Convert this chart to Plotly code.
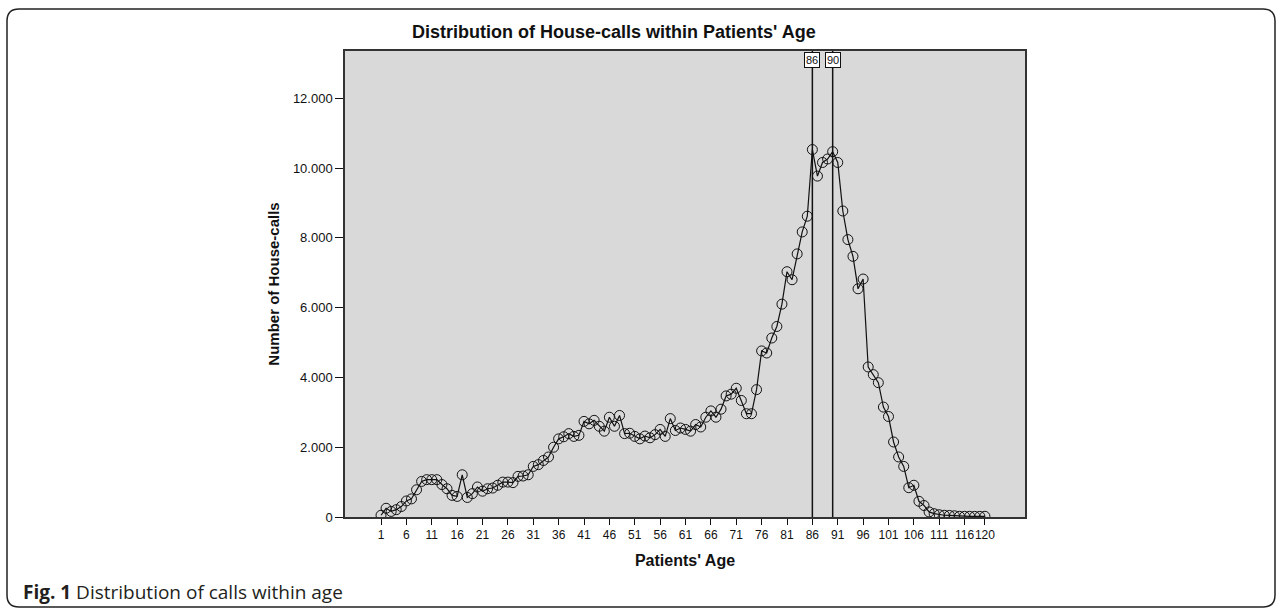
import plotly.graph_objects as go

ages = list(range(1, 121))
house_calls = [
    50, 250, 160, 210, 300, 460, 520, 780, 1020, 1070,
    1070, 1070, 930, 810, 620, 590, 1210, 560, 670, 860,
    740, 810, 830, 910, 1000, 1000, 985, 1165, 1175, 1210,
    1450, 1500, 1620, 1720, 2000, 2240, 2300, 2390, 2310, 2340,
    2740, 2670, 2770, 2600, 2460, 2860, 2600, 2910, 2390, 2400,
    2310, 2240, 2320, 2270, 2360, 2510, 2310, 2820, 2480, 2550,
    2510, 2460, 2650, 2580, 2860, 3040, 2860, 3090, 3470, 3520,
    3690, 3340, 2960, 2960, 3650, 4760, 4700, 5130, 5460, 6100,
    7030, 6800, 7540, 8170, 8620, 10530, 9770, 10160, 10260, 10470,
    10160, 8770, 7950, 7470, 6540, 6820, 4300, 4080, 3850, 3150,
    2880, 2150, 1720, 1450, 840, 910, 450, 330, 145, 95,
    65, 50, 45, 35, 20, 20, 20, 18, 18, 20,
]
x_tick_vals = list(range(1, 117, 5)) + [120]
y_tick_vals = [0, 2000, 4000, 6000, 8000, 10000, 12000]
ref_ages = [86, 90]

title_text = "Distribution of House-calls within Patients' Age"
x_title = "Patients' Age"
y_title = "Number of House-calls"
caption = "<b>Fig. 1</b> Distribution of calls within age"

W, H = 1282, 611
L, R, T, B = 345, 257, 51, 94
PW, PH = W - L - R, H - T - B


def px(x):
    return (x - L) / PW


def py(y):
    return (H - B - y) / PH


fig = go.Figure()
fig.add_trace(go.Scatter(
    x=ages, y=house_calls, mode="lines+markers",
    line=dict(color="#111111", width=1.2),
    marker=dict(symbol="circle-open", size=10, color="#111111", line=dict(width=1)),
    showlegend=False, hoverinfo="x+y",
))

for a in ref_ages:
    fig.add_shape(type="line", xref="x", yref="paper", x0=a, x1=a, y0=0, y1=1,
                  line=dict(color="#111111", width=1.5), layer="above")
    fig.add_annotation(x=a, y=0.997, xref="x", yref="paper", text=str(a),
                       showarrow=False, yanchor="top", xanchor="center",
                       bgcolor="white", bordercolor="#111111", borderwidth=1,
                       borderpad=1, font=dict(family="Liberation Sans, Arial", size=11, color="#111111"))

# figure title
fig.add_annotation(x=px(410), y=py(32), xref="paper", yref="paper", text="<b>" + title_text + "</b>",
                   showarrow=False, xanchor="left", yanchor="middle",
                   font=dict(family="Liberation Sans, Arial", size=18, color="#111111"))

# caption
fig.add_annotation(x=px(21), y=py(592), xref="paper", yref="paper", text=caption,
                   showarrow=False, xanchor="left", yanchor="middle",
                   font=dict(family="Open Sans", size=19, color="#231f20"))

# rounded frame
x0, y0, x1, y1, r = 7, 9, 1275, 607, 12
path = (f"M {px(x0)},{py(y0 + r)} Q {px(x0)},{py(y0)} {px(x0 + r)},{py(y0)} "
        f"L {px(x1 - r)},{py(y0)} Q {px(x1)},{py(y0)} {px(x1)},{py(y0 + r)} "
        f"L {px(x1)},{py(y1 - r)} Q {px(x1)},{py(y1)} {px(x1 - r)},{py(y1)} "
        f"L {px(x0 + r)},{py(y1)} Q {px(x0)},{py(y1)} {px(x0)},{py(y1 - r)} Z")
fig.add_shape(type="path", xref="paper", yref="paper", path=path,
              line=dict(color="#222222", width=1.5), fillcolor="rgba(0,0,0,0)")

fig.update_layout(
    width=W, height=H,
    margin=dict(l=L, r=R, t=T, b=B),
    paper_bgcolor="white", plot_bgcolor="#d9d9d9",
    separators=",.",
    font=dict(family="Liberation Sans, Arial", color="#111111"),
    xaxis=dict(range=[-6.1, 127.9], tickvals=x_tick_vals, tickangle=0, ticks="outside", ticklen=6,
               tickcolor="#111111", showline=True, linecolor="#333333", linewidth=1.5,
               mirror=True, showgrid=False, zeroline=False,
               tickfont=dict(size=12, color="#111111"),
               title=dict(text="<b>" + x_title + "</b>", font=dict(size=16), standoff=14)),
    yaxis=dict(range=[0, 13355], tickvals=y_tick_vals, tickformat=",d", ticks="outside",
               ticklen=8, tickcolor="#111111", showline=True, linecolor="#333333",
               linewidth=1.5, mirror=True, showgrid=False, zeroline=False,
               tickfont=dict(size=13, color="#111111"),
               title=dict(text="<b>" + y_title + "</b>", font=dict(size=15), standoff=10)),
)

fig.write_html("out.html", config={"displayModeBar": False},
               post_script="document.body.style.margin='0px';document.body.style.overflow='hidden';")
